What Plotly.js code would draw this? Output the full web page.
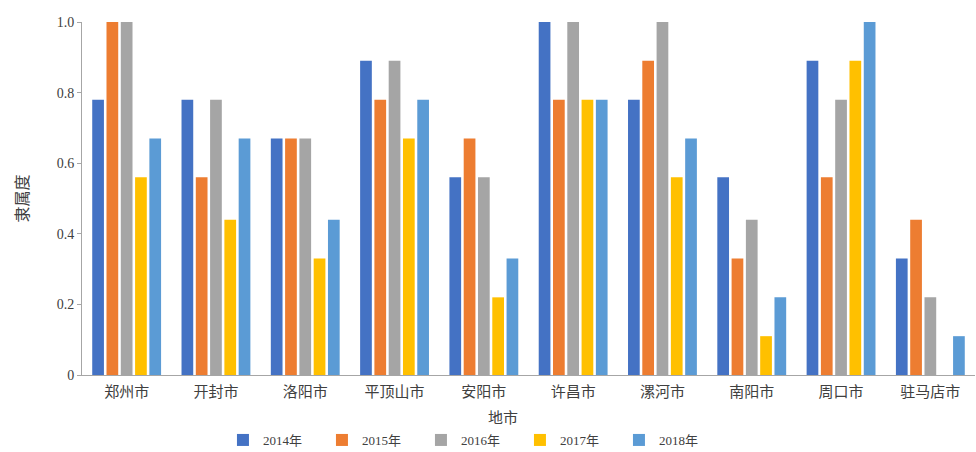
<!DOCTYPE html>
<html>
<head>
<meta charset="utf-8">
<script src="https://cdn.plot.ly/plotly-3.0.1.min.js"></script>
<style>html,body{margin:0;padding:0;background:#fff;}#chart{width:976px;height:452px;}</style>
</head>
<body>
<div id="chart"></div>
<script>
const cities = ["郑州市","开封市","洛阳市","平顶山市","安阳市","许昌市","漯河市","南阳市","周口市","驻马店市"];
const years = ["2014年","2015年","2016年","2017年","2018年"];
const v2014 = [0.78,0.78,0.67,0.89,0.56,1.00,0.78,0.56,0.89,0.33];
const v2015 = [1.00,0.56,0.67,0.78,0.67,0.78,0.89,0.33,0.56,0.44];
const v2016 = [1.00,0.78,0.67,0.89,0.56,1.00,1.00,0.44,0.78,0.22];
const v2017 = [0.56,0.44,0.33,0.67,0.22,0.78,0.56,0.11,0.89,0.00];
const v2018 = [0.67,0.67,0.44,0.78,0.33,0.78,0.67,0.22,1.00,0.11];
const series = [v2014,v2015,v2016,v2017,v2018];
const colors = ["#4472C4","#ED7D31","#A5A5A5","#FFC000","#5B9BD5"];
const font = "Liberation Serif, Noto Sans CJK SC, serif";
const traces = series.map((s,i)=>({
  type:"bar", name:years[i], x:cities, y:s,
  marker:{color:colors[i]}
}));
const layout = {
  width:976, height:452,
  margin:{l:82,r:1,t:22,b:77, autoexpand:false},
  paper_bgcolor:"#fff", plot_bgcolor:"#fff",
  barmode:"group", bargap:0.2, bargroupgap:0.18,
  font:{family:font, size:14, color:"#404040"},
  showlegend:true,
  legend:{orientation:"h", x:0.435, xanchor:"center", y:-(440-375)/353, yanchor:"middle",
          font:{size:13}, entrywidth:54, itemwidth:30, tracegroupgap:0},
  xaxis:{
    showline:true, linecolor:"#A6A6A6", ticks:"", tickfont:{size:15},
    ticklabelstandoff:3, showgrid:false, automargin:false
  },
  yaxis:{
    title:{text:"隶属度", font:{size:16}, standoff:24},
    range:[0,1.0], tickvals:[0,0.2,0.4,0.6,0.8,1.0],
    ticktext:["0","0.2","0.4","0.6","0.8","1.0"],
    showline:true, linecolor:"#A6A6A6", ticks:"outside", ticklen:4, tickcolor:"#A6A6A6",
    showgrid:false, zeroline:false, tickfont:{size:14}, automargin:false
  },
  annotations:[{text:"地市", xref:"paper", yref:"paper", x:(503-82)/893, y:-(418-375)/353,
    xanchor:"center", yanchor:"middle", showarrow:false, font:{size:15}}]
};
Plotly.newPlot("chart", traces, layout, {displayModeBar:false});
</script>
</body>
</html>
